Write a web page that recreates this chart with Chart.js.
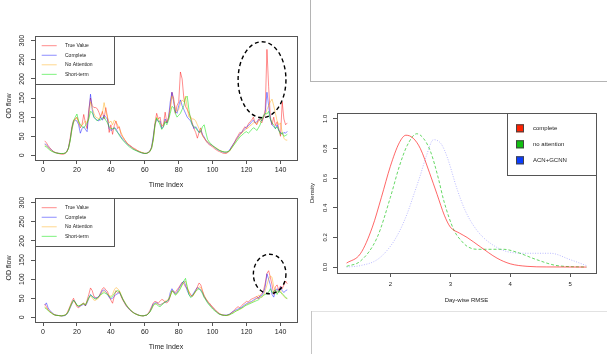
<!DOCTYPE html>
<html><head><meta charset="utf-8">
<script src="https://cdn.jsdelivr.net/npm/chart.js@4.4.1/dist/chart.umd.min.js"></script>
<style>
html,body{margin:0;padding:0;background:#fff;width:607px;height:354px;overflow:hidden;}
canvas{position:absolute;left:0;top:0;}
.ln{position:absolute;}
</style></head><body>
<div class="ln" style="left:310px;top:0;width:1px;height:82px;background:#b4b4b4"></div>
<div class="ln" style="left:310px;top:81px;width:297px;height:1px;background:#b4b4b4"></div>
<div class="ln" style="left:311px;top:311px;width:296px;height:1px;background:#e2e2e2"></div>
<div class="ln" style="left:311px;top:311px;width:1px;height:43px;background:#c4c4c4"></div>
<canvas id="c1" width="607" height="354"></canvas>
<canvas id="c2" width="607" height="354"></canvas>
<canvas id="c3" width="607" height="354"></canvas>
<script>
// ---------- DATA ----------
const timeIndex = Array.from({length: 144}, (_, i) => i + 1);
const tsXTicks = [0, 20, 40, 60, 80, 100, 120, 140];
const tsYTicks = [0, 50, 100, 150, 200, 250, 300];
const tsNames = ['True Value', 'Complete', 'No Attention', 'Short-term'];

const topTrue = [38,33,26,20,15,11,8,6,5,4, 3,3,5,9,20,45,75,92,95,100, 88,72,80,107,85,70,120,150,130,125,
  125,122,112,100,115,95,125,100,60,80, 55,78,90,70,75,55,48,42,35,30, 27,24,20,18,15,12,10,8,6,5,
  5,7,10,20,45,85,110,95,100,75, 80,113,85,100,125,165,150,110,130,140, 218,200,150,128,120,110,100,85,70,60,
  45,60,72,52,45,38,32,28,25,22, 18,15,12,10,8,6,5,5,8,12, 20,28,35,45,52,60,58,68,75,70,
  82,88,92,100,85,80,95,90,85,100, 120,277,180,100,80,100,78,88,70,50, 140,95,80,85];
const topComplete = [30,28,22,18,14,10,8,7,6,5, 5,5,6,10,20,40,70,88,92,90, 80,58,70,75,68,62,110,160,120,100,
  95,92,90,100,92,105,100,95,70,65, 68,72,70,60,55,48,42,38,33,28, 25,22,18,15,13,11,9,7,6,5,
  6,8,12,22,50,80,95,88,90,70, 75,95,85,98,140,165,140,115,110,130, 145,130,120,110,100,95,90,80,70,75,
  68,60,65,55,48,40,35,30,28,25, 22,18,15,13,11,9,8,8,10,14, 22,28,35,42,48,55,60,65,70,75,
  78,82,88,92,85,88,92,95,90,100, 110,165,130,95,80,75,70,80,65,60, 55,60,58,63];
const topNoAttn = [28,25,20,16,12,10,8,7,6,5, 5,5,6,10,18,38,65,85,95,98, 85,80,78,85,90,85,100,140,125,110,
  100,98,95,105,110,138,115,100,85,90, 80,92,88,80,70,60,50,42,36,30, 26,22,19,16,14,12,10,8,7,6,
  6,8,12,20,40,75,100,95,85,80, 78,90,88,95,120,155,145,125,115,120, 135,145,140,155,125,100,100,95,95,90,
  80,70,60,52,45,40,35,32,28,25, 22,20,17,14,12,10,9,8,9,12, 18,25,32,40,46,52,58,62,66,70,
  72,78,80,85,88,82,88,95,92,100, 105,120,130,140,147,130,110,90,80,85, 60,45,40,40];
const topShort = [24,22,18,14,11,9,7,6,5,5, 5,5,6,9,18,38,68,90,100,108, 90,80,75,72,78,85,95,115,112,100,
  95,90,95,92,98,100,92,85,75,70, 70,72,65,60,52,46,40,35,30,26, 22,19,16,14,12,10,8,7,6,5,
  5,7,10,18,40,80,98,90,80,68, 75,88,80,92,110,128,125,110,100,105, 110,120,130,150,155,120,95,80,75,72,
  65,60,62,75,80,60,42,35,30,26, 22,19,16,13,11,10,9,9,10,12, 18,24,30,36,42,48,52,56,60,62,
  58,62,68,72,70,65,72,80,95,105, 110,108,115,95,85,80,70,75,65,55, 60,50,52,55];

const botTrue = [35,28,20,15,12,8,6,5,5,4, 4,5,6,10,20,30,42,50,38,28, 25,30,35,38,30,45,60,77,70,55,
  52,50,55,65,75,78,72,68,55,45, 37,55,70,65,68,55,45,38,30,25, 20,16,13,10,8,6,5,4,4,5,
  6,10,18,28,38,42,40,38,42,47, 45,40,38,42,55,70,68,65,72,78, 85,92,88,80,75,68,60,55,62,70,
  80,90,85,70,55,48,42,38,32,28, 22,18,14,10,8,6,6,5,6,8, 12,15,20,25,28,25,30,35,38,42,
  40,45,48,50,52,55,48,58,62,70, 90,115,122,105,85,60,80,85,70,82, 75,85,95,88];
const botComplete = [32,38,25,18,14,10,7,6,5,5, 4,4,5,8,15,25,35,45,40,32, 28,30,32,35,30,38,50,60,55,52,
  50,52,55,62,70,72,68,60,52,48, 50,55,60,62,65,58,48,40,32,26, 21,17,14,11,9,7,5,5,4,5,
  6,9,15,25,35,38,38,35,32,35, 38,40,42,45,65,75,68,62,65,75, 82,90,95,85,70,60,55,58,65,72,
  78,75,72,65,55,48,40,35,30,25, 20,16,12,9,7,6,6,6,7,9, 12,15,18,20,22,24,26,30,33,36,
  38,40,42,45,48,50,52,55,58,65, 80,114,100,85,60,53,70,75,65,80, 70,65,70,72];
const botNoAttn = [28,24,20,15,12,9,7,6,5,5, 4,5,6,9,16,26,36,42,38,32, 30,32,34,35,32,40,50,55,52,45,
  45,48,52,58,65,70,65,62,58,55, 60,72,78,75,70,60,50,42,34,28, 23,18,14,11,9,7,5,5,4,5,
  6,9,14,22,30,35,36,34,32,35, 38,42,45,48,58,68,65,60,62,70, 78,85,90,95,80,65,58,55,60,68,
  75,80,78,68,58,50,42,36,30,25, 20,16,12,9,7,6,5,5,6,7, 10,12,15,17,19,21,23,26,30,34,
  36,38,40,42,45,50,58,55,52,58, 70,85,100,108,105,80,72,68,65,70, 60,55,50,50];
const botShort = [25,22,18,14,11,8,6,5,5,4, 4,5,6,9,16,28,38,45,40,32, 30,32,35,36,33,42,52,58,55,50,
  48,50,55,60,62,65,62,60,55,52, 55,62,68,70,68,58,48,40,33,27, 22,17,13,10,8,6,5,4,4,5,
  6,9,14,22,32,36,34,30,28,32, 36,40,42,46,55,70,65,58,62,68, 75,85,95,102,80,60,52,55,62,68,
  72,75,70,62,52,45,38,32,27,22, 18,15,11,8,7,6,5,5,6,7, 9,11,14,17,19,22,24,27,30,32,
  34,36,38,40,42,44,46,50,55,58, 60,62,66,75,65,68,72,60,70,65, 62,58,52,49];

const densXTicks = [2, 3, 4, 5];
const densYTicks = [0, 0.2, 0.4, 0.6, 0.8, 1.0];
const densNames = ['complete', 'no attention', 'ACN+GCNN'];
const densCompleteX = [1.27,1.5,1.7,1.85,2.0,2.15,2.26,2.38,2.5,2.65,2.78,2.9,3.0,3.15,3.28,3.5,3.78,4.0,4.28,4.6,5.27];
const densCompleteY = [0.027,0.09,0.27,0.47,0.68,0.84,0.89,0.87,0.80,0.64,0.49,0.35,0.27,0.23,0.20,0.137,0.06,0.022,0.005,0.001,0];
const densNoAttnX = [1.27,1.5,1.78,2.0,2.15,2.28,2.44,2.55,2.67,2.8,2.89,3.06,3.2,3.28,3.44,3.6,3.89,4.11,4.44,4.78,5.27];
const densNoAttnY = [0.005,0.04,0.2,0.47,0.68,0.82,0.90,0.87,0.78,0.6,0.45,0.25,0.17,0.14,0.12,0.12,0.12,0.10,0.05,0.01,0];
const densAcnX = [1.27,1.5,1.78,2.0,2.15,2.28,2.4,2.5,2.6,2.72,2.85,2.95,3.11,3.25,3.44,3.67,4.0,4.33,4.67,5.0,5.27];
const densAcnY = [0,0.01,0.05,0.14,0.24,0.36,0.5,0.62,0.75,0.86,0.83,0.74,0.53,0.38,0.25,0.16,0.10,0.093,0.093,0.05,0.01];

// ---------- DRAWING ----------
const FONT = "'Liberation Sans', Arial, Helvetica, sans-serif";
const W = 607, H = 354;

function rotText(ctx, t, x, y) {
  ctx.save(); ctx.translate(x, y); ctx.rotate(-Math.PI / 2);
  ctx.textAlign = 'center'; ctx.textBaseline = 'middle'; ctx.fillText(t, 0, 0); ctx.restore();
}

const rPlot = {
  id: 'rplot',
  afterDatasetsDraw(chart, args, o) {
    const ctx = chart.ctx, a = chart.chartArea, xs = chart.scales.x, ys = chart.scales.y;
    ctx.save();
    if (o.ellipse) {
      const e = o.ellipse;
      const cx = xs.getPixelForValue(e.cx), cy = ys.getPixelForValue(e.cy);
      const rx = Math.abs(xs.getPixelForValue(e.cx + e.rx) - cx);
      const ry = Math.abs(ys.getPixelForValue(e.cy + e.ry) - cy);
      ctx.setLineDash([4, 3]); ctx.lineWidth = 1.4; ctx.strokeStyle = '#000';
      ctx.beginPath(); ctx.ellipse(cx, cy, rx, ry, 0, 0, Math.PI * 2); ctx.stroke();
      ctx.setLineDash([]);
    }
    // box
    ctx.strokeStyle = '#555'; ctx.lineWidth = 1;
    ctx.strokeRect(Math.round(a.left) + 0.5, Math.round(a.top) + 0.5, Math.round(a.right - a.left), Math.round(a.bottom - a.top));
    // tick labels
    ctx.fillStyle = '#222';
    ctx.font = o.tickFont + 'px ' + FONT;
    ctx.textAlign = 'center'; ctx.textBaseline = 'middle';
    xs.ticks.forEach(t => ctx.fillText(t.value.toFixed(o.xDec), xs.getPixelForValue(t.value), a.bottom + o.xLabOff));
    ys.ticks.forEach(t => rotText(ctx, t.value.toFixed(o.yDec), o.yLabX, ys.getPixelForValue(t.value)));
    // titles
    ctx.font = o.titleFont + 'px ' + FONT;
    ctx.fillText(o.xTitle, (a.left + a.right) / 2, a.bottom + o.xTitleOff);
    rotText(ctx, o.yTitle, o.yTitleX, o.yTitleY);
    // legend
    const L = o.legend;
    ctx.font = L.font + 'px ' + FONT;
    ctx.textAlign = 'left';
    const bx = L.right ? a.right - L.w : a.left, by = a.top;
    ctx.fillStyle = '#fff';
    ctx.fillRect(bx, by, L.w, L.h);
    ctx.strokeStyle = '#555'; ctx.lineWidth = 1;
    ctx.strokeRect(Math.round(bx) + 0.5, Math.round(by) + 0.5, Math.round(L.w), Math.round(L.h));
    chart.data.datasets.forEach((d, i) => {
      const y = by + L.y0 + i * L.dy;
      if (L.kind === 'line') {
        ctx.strokeStyle = d.borderColor; ctx.lineWidth = 1;
        ctx.beginPath(); ctx.moveTo(bx + L.lx0, y); ctx.lineTo(bx + L.lx1, y); ctx.stroke();
      } else {
        ctx.fillStyle = L.fills[i];
        ctx.fillRect(bx + L.sx - 4, y - 4, 8, 8);
        ctx.strokeStyle = '#444'; ctx.strokeRect(bx + L.sx - 4 + 0.5, y - 4 + 0.5, 7, 7);
      }
      ctx.fillStyle = '#222';
      ctx.fillText(d.label, bx + L.tx, y);
    });
    ctx.restore();
  }
};

const tsColors = ['rgba(255,0,0,0.45)', 'rgba(0,0,255,0.45)', 'rgba(255,165,0,0.45)', 'rgba(0,230,0,0.5)'];

function tsChart(id, top, bottom, series, ellipse) {
  return new Chart(document.getElementById(id), {
    type: 'line',
    data: {
      datasets: series.map((s, i) => ({
        label: tsNames[i],
        data: s.map((v, k) => ({x: timeIndex[k], y: v})),
        borderColor: tsColors[i], borderWidth: 1, pointRadius: 0, fill: false, tension: 0,
        order: 3 - i
      }))
    },
    options: {
      responsive: false, animation: false, devicePixelRatio: 1,
      layout: {padding: {left: 0, top: top, right: W - 297, bottom: 0}},
      plugins: {
        legend: {display: false}, tooltip: {enabled: false},
        rplot: {
          ellipse: ellipse, tickFont: 7, xDec: 0, yDec: 0, xLabOff: 10.5, yLabX: 22,
          titleFont: 7, xTitle: 'Time Index', xTitleOff: 25.5, yTitle: 'OD flow', yTitleX: 9, yTitleY: (top + bottom) / 2 + 8,
          legend: {kind: 'line', w: 79, h: 48, y0: 9.7, dy: 9.55, lx0: 6.7, lx1: 21.7, tx: 30, font: 5}
        }
      },
      scales: {
        x: {
          type: 'linear', min: -4.72, max: 149.72, bounds: 'data',
          afterBuildTicks: s => { s.ticks = tsXTicks.map(v => ({value: v})); },
          afterFit: s => { s.height = H - bottom; },
          ticks: {display: false},
          grid: {drawOnChartArea: false, drawTicks: true, tickLength: 4, color: '#555'},
          border: {display: false}
        },
        y: {
          type: 'linear', min: -12, max: 312, bounds: 'data',
          afterBuildTicks: s => { s.ticks = tsYTicks.map(v => ({value: v})); },
          afterFit: s => { s.width = 35; },
          ticks: {display: false},
          grid: {drawOnChartArea: false, drawTicks: true, tickLength: 4, color: '#555'},
          border: {display: false}
        }
      }
    },
    plugins: [rPlot]
  });
}

tsChart('c1', 36, 160, [topTrue, topComplete, topNoAttn, topShort], {cx: 129.1, cy: 197.8, rx: 14.1, ry: 99.3});
tsChart('c2', 198, 322, [botTrue, botComplete, botNoAttn, botShort], {cx: 133.6, cy: 113.4, rx: 9.6, ry: 51.7});

// density chart
const densSeries = [[densCompleteX, densCompleteY], [densNoAttnX, densNoAttnY], [densAcnX, densAcnY]];
const densColors = ['rgba(255,0,0,0.6)', 'rgba(0,190,0,0.6)', 'rgba(60,60,255,0.35)'];
const densDash = [[], [3, 2], [1, 1.5]];
const dTop = 113, dBottom = 273, dLeft = 337, dRight = 596;
new Chart(document.getElementById('c3'), {
  type: 'line',
  data: {
    datasets: densSeries.map((s, i) => ({
      label: densNames[i],
      data: s[0].map((x, k) => ({x: x, y: s[1][k]})),
      borderColor: densColors[i], borderWidth: 1, borderDash: densDash[i],
      pointRadius: 0, fill: false, cubicInterpolationMode: 'monotone'
    }))
  },
  options: {
    responsive: false, animation: false, devicePixelRatio: 1,
    layout: {padding: {left: 0, top: dTop, right: W - dRight, bottom: 0}},
    plugins: {
      legend: {display: false}, tooltip: {enabled: false},
      rplot: {
        tickFont: 6, xDec: 0, yDec: 1, xLabOff: 11.5, yLabX: 325,
        titleFont: 6, xTitle: 'Day-wise RMSE', xTitleOff: 27, yTitle: 'Density', yTitleX: 312, yTitleY: 193,
        legend: {kind: 'box', right: true, w: 89, h: 62, y0: 15.3, dy: 16, sx: 13, tx: 26, font: 6,
          fills: ['#ff2200', '#11c011', '#0a3cff']}
      }
    },
    scales: {
      x: {
        type: 'linear', min: 1.11, max: 5.43, bounds: 'data',
        afterBuildTicks: s => { s.ticks = densXTicks.map(v => ({value: v})); },
        afterFit: s => { s.height = H - dBottom; },
        ticks: {display: false},
        grid: {drawOnChartArea: false, drawTicks: true, tickLength: 4, color: '#555'},
        border: {display: false}
      },
      y: {
        type: 'linear', min: -0.04, max: 1.04, bounds: 'data',
        afterBuildTicks: s => { s.ticks = densYTicks.map(v => ({value: v})); },
        afterFit: s => { s.width = dLeft; },
        ticks: {display: false},
        grid: {drawOnChartArea: false, drawTicks: true, tickLength: 4, color: '#555'},
        border: {display: false}
      }
    }
  },
  plugins: [rPlot]
});
</script>
</body></html>
